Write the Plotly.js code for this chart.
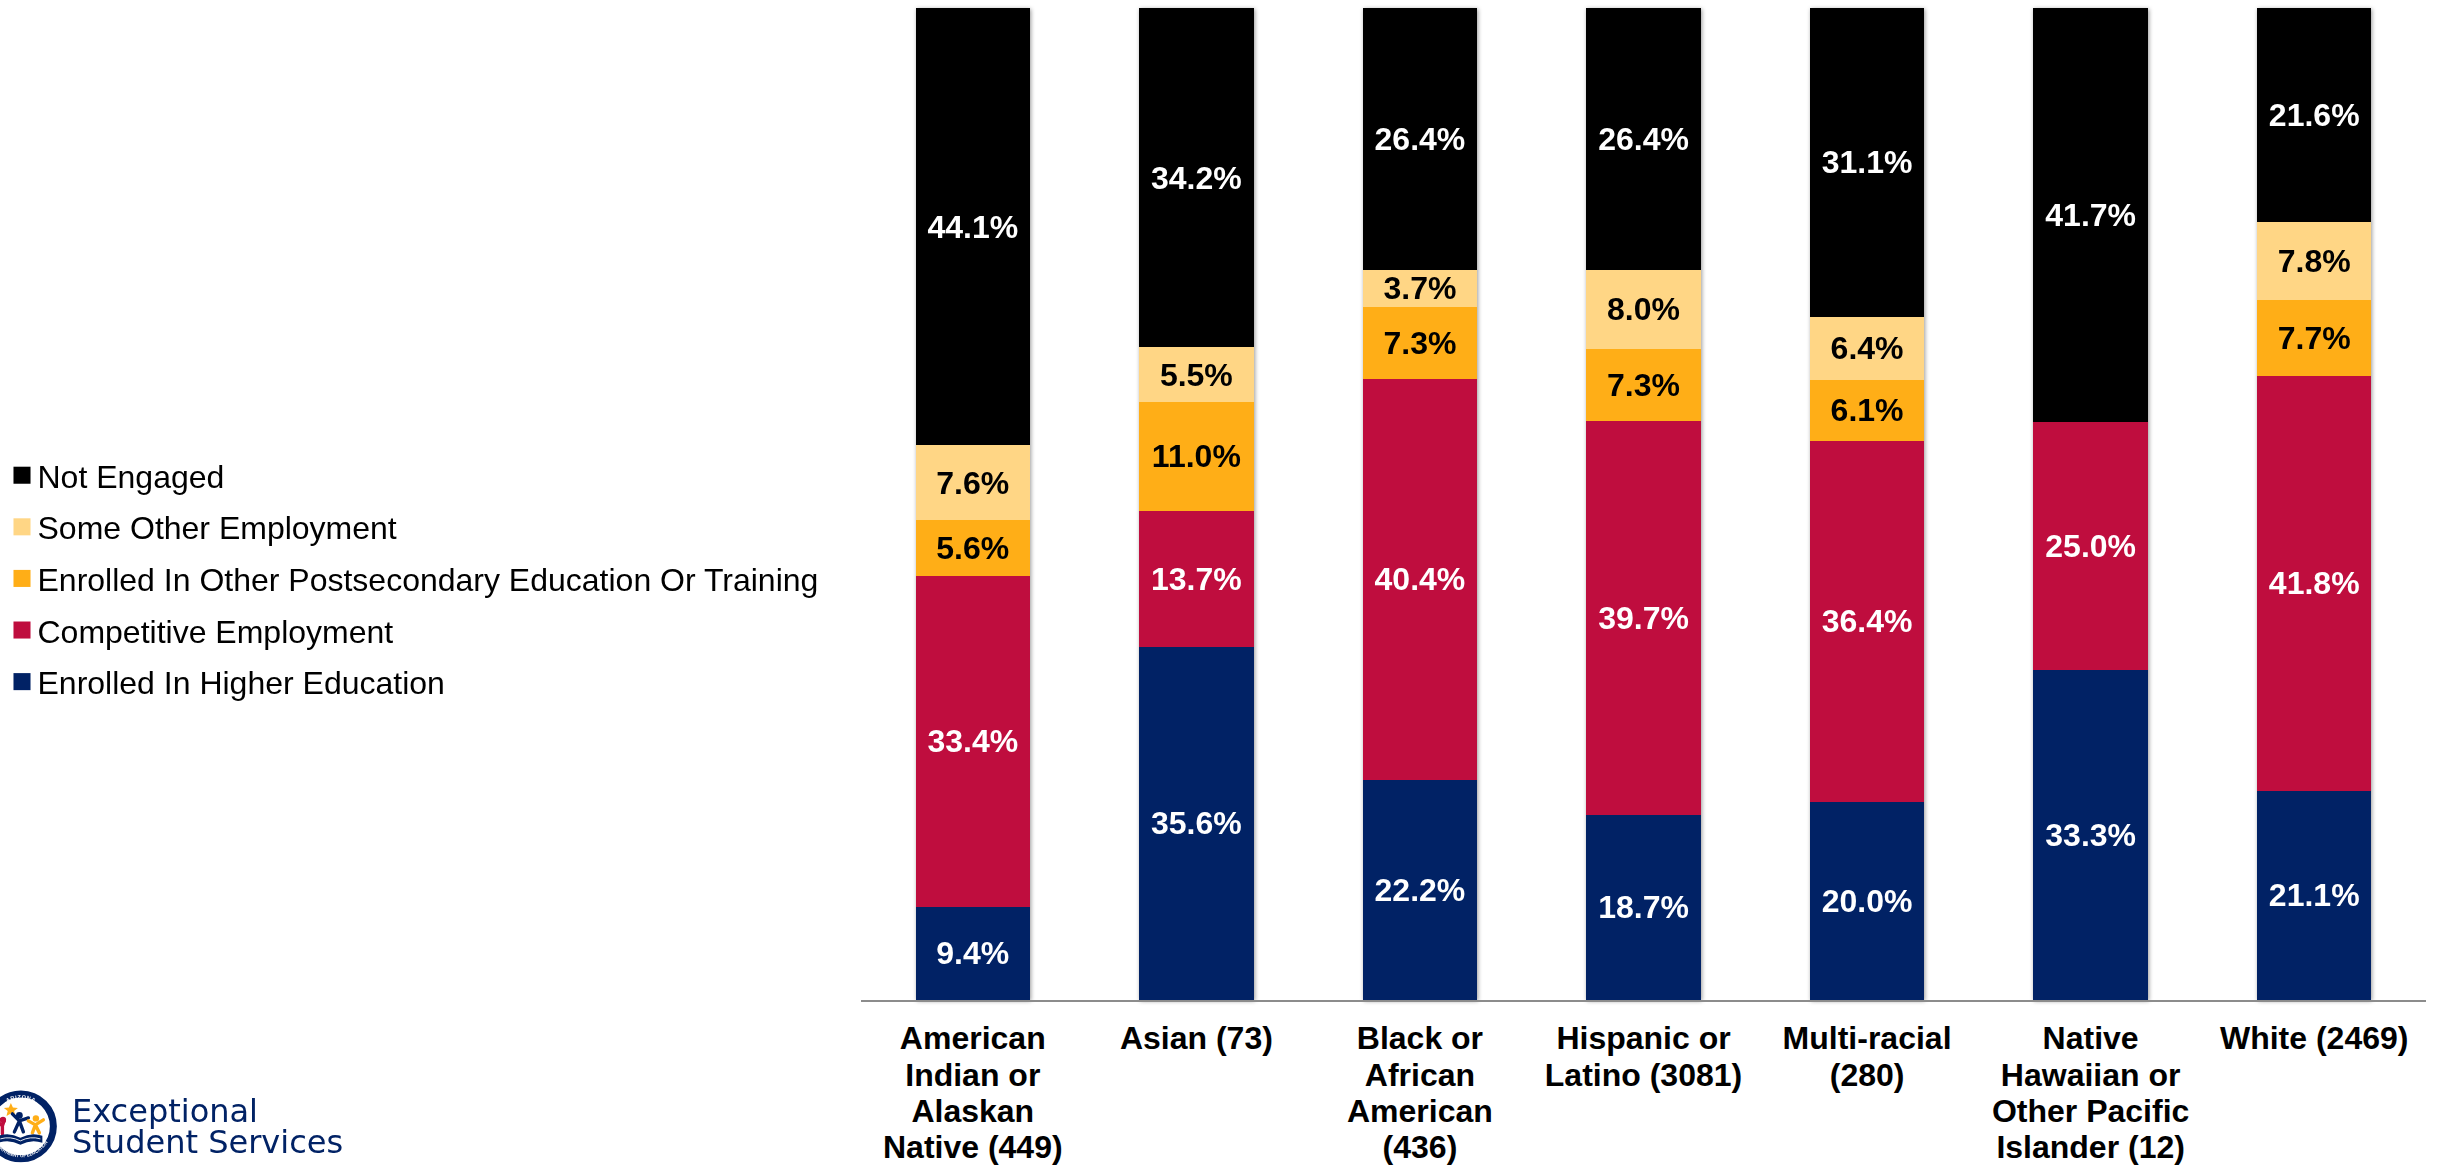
<!DOCTYPE html>
<html><head><meta charset="utf-8">
<script src="https://cdn.plot.ly/plotly-3.0.1.min.js"></script>
<style>html,body{margin:0;padding:0;background:#fff}#c{width:2437px;height:1165px}
.barlayer{filter:drop-shadow(1px 1px 2px rgba(0,0,0,.4))}
</style></head><body><div id="c"></div>
<script>
const categories=["American<br>Indian or<br>Alaskan<br>Native (449)","Asian (73)","Black or<br>African<br>American<br>(436)","Hispanic or<br>Latino (3081)","Multi-racial<br>(280)","Native<br>Hawaiian or<br>Other Pacific<br>Islander (12)","White (2469)"];
const higherEd=[9.4,35.6,22.2,18.7,20.0,33.3,21.1];
const competitive=[33.4,13.7,40.4,39.7,36.4,25.0,41.8];
const otherPostsec=[5.6,11.0,7.3,7.3,6.1,null,7.7];
const otherEmp=[7.6,5.5,3.7,8.0,6.4,null,7.8];
const notEngaged=[44.1,34.2,26.4,26.4,31.1,41.7,21.6];
const names=["Enrolled In Higher Education","Competitive Employment","Enrolled In Other Postsecondary Education Or Training","Some Other Employment","Not Engaged"];
const colors=["#012265","#BF0D3E","#FFAE17","#FFD685","#000000"];
const labelColors=["#fff","#fff","#000","#000","#fff"];
const seriesList=[higherEd,competitive,otherPostsec,otherEmp,notEngaged];
const FONT="Liberation Sans, Arial, sans-serif";
const traces=seriesList.map((v,i)=>({type:"bar",name:names[i],legendgroup:"g"+i,legendrank:5-i,x:categories,y:v,
  marker:{color:colors[i],line:{width:0}},
  text:v.map(d=>d==null?"":d.toFixed(1)+"%"),textposition:"inside",insidetextanchor:"middle",
  textangle:0,constraintext:"none",
  insidetextfont:{family:FONT,size:32,color:labelColors[i],weight:700},cliponaxis:false,hoverinfo:"skip"}));
const logo=`<svg xmlns="http://www.w3.org/2000/svg" viewBox="0 0 73 73">
<defs><path id="t" d="M9 36.5A27.5 27.5 0 0 1 64 36.5"/><path id="b" d="M5.5 36.5A31 31 0 0 0 67.5 36.5"/></defs>
<circle cx="36.5" cy="36.5" r="32.5" fill="#fff" stroke="#012265" stroke-width="7"/>
<text font-family="Liberation Sans" font-weight="700" font-size="5.5" fill="#fff" letter-spacing=".6"><textPath href="#t" startOffset="50%" text-anchor="middle">ARIZONA</textPath></text>
<text font-family="Liberation Sans" font-weight="700" font-size="4.4" fill="#fff"><textPath href="#b" startOffset="50%" text-anchor="middle">DEPARTMENT OF EDUCATION</textPath></text>
<path d="M26.5 13l2 4.6 5 .4-3.8 3.2 1.2 4.9-4.4-2.6-4.4 2.6 1.2-4.9-3.8-3.2 5-.4z" fill="#FFAE17"/>
<g fill="none" stroke-linecap="round" stroke-width="3.4">
<path d="M11 30l7 6 2-6M18 36v8" stroke="#BF0D3E"/>
<path d="M28 24l7 7 9-3M35 31l-5 11M35 31l4 11" stroke="#012265"/>
<path d="M44 31l7 4 8-5M51 35l-3 8M51 35l4 8" stroke="#FFAE17"/></g>
<circle cx="18.5" cy="30" r="3.2" fill="#BF0D3E"/><circle cx="35" cy="25.5" r="3.4" fill="#012265"/><circle cx="51.5" cy="28.5" r="3.2" fill="#FFAE17"/>
<path d="M14 46q11-4 22 2q11-6 22-2v7q-11-4-22 2q-11-6-22-2z" fill="#012265"/>
<path d="M16 49q10-3 20 2q10-5 20-2" fill="none" stroke="#fff" stroke-width=".9"/>
</svg>`;
const L=860.6,R=2426.5,T=7.5,B=1000.5,W=2437,H=1165;
const pw=R-L,ph=B-T;
const layout={width:W,height:H,paper_bgcolor:"#fff",plot_bgcolor:"#fff",barmode:"stack",barnorm:"percent",bargap:0.488,
  margin:{l:L,r:W-R,t:T,b:H-B,autoexpand:false},showlegend:true,
  legend:{xref:"container",yref:"container",x:0,xanchor:"left",y:0.5035,yanchor:"middle",traceorder:"grouped",tracegroupgap:7,font:{family:FONT,size:32,color:"#000"},itemwidth:30,bgcolor:"rgba(0,0,0,0)"},
  xaxis:{type:"category",categoryorder:"array",categoryarray:categories,showline:true,linecolor:"#8C8C8C",linewidth:2,ticks:"",showgrid:false,automargin:false,
    tickfont:{family:FONT,size:32,color:"#000",weight:700},ticklabelstandoff:9,fixedrange:true},
  yaxis:{range:[0,100],visible:false,fixedrange:true},
  images:[{source:"data:image/svg+xml;utf8,"+encodeURIComponent(logo),xref:"paper",yref:"paper",x:(-16.5-L)/pw,y:(B-1090.5)/ph,sizex:73/pw,sizey:73/ph,xanchor:"left",yanchor:"top",sizing:"stretch",layer:"above"}],
  annotations:[
   {xref:"paper",yref:"paper",x:(69-L)/pw,y:(B-1133)/ph,xanchor:"left",yanchor:"middle",align:"left",showarrow:false,text:"Exceptional<br>Student Services",font:{family:"DejaVu Sans, sans-serif",size:32,color:"#012265"}}]
};
Plotly.newPlot("c",traces,layout,{displayModeBar:false,staticPlot:true}).then(gd=>{
  // tighter line pitch on the category labels and logo text, larger legend swatches, data labels above the bar shadow
  gd.querySelectorAll(".xtick text tspan.line").forEach(s=>{
    const n=+s.getAttribute("dy").replace("em","")/1.3; s.setAttribute("dy",(n*1.13)+"em");
  });
  gd.querySelectorAll(".annotation-text tspan.line").forEach(s=>{
    const n=+s.getAttribute("dy").replace("em","")/1.3; s.setAttribute("dy",(n*0.97)+"em");
  });
  gd.querySelectorAll(".legendpoints path").forEach(p=>p.setAttribute("transform","translate(22,0) scale(1.42)"));
  gd.querySelectorAll(".legendtext").forEach(t=>t.setAttribute("transform","translate(-2.5,0)"));
  const bl=gd.querySelector(".barlayer");
  const g=document.createElementNS("http://www.w3.org/2000/svg","g");
  bl.parentNode.insertBefore(g,bl.nextSibling);
  bl.querySelectorAll("text.bartext").forEach(t=>g.appendChild(t));
});
</script></body></html>
